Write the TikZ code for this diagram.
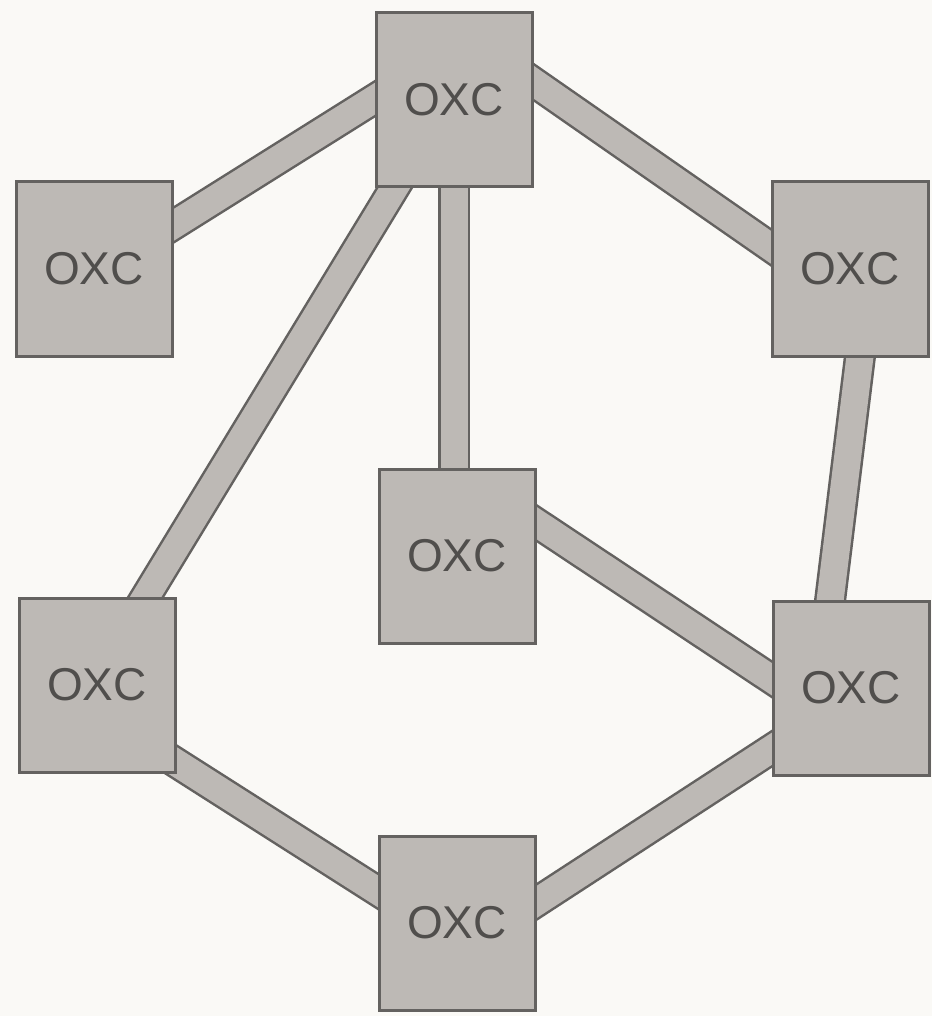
\documentclass[tikz,border=0pt]{standalone}
\usepackage{fontspec}
\setmainfont{Liberation Sans}
\usetikzlibrary{calc}
\pgfdeclarelayer{background}
\pgfsetlayers{background,main}
\definecolor{boxgray}{RGB}{189,185,181}
\definecolor{edgegray}{RGB}{100,98,96}
\definecolor{textgray}{RGB}{80,78,76}
\definecolor{paper}{RGB}{250,249,246}
\tikzset{
  oxc/.style={draw=edgegray, line width=3pt, fill=boxgray, minimum width=156pt, minimum height=174pt,
    inner sep=0pt, outer sep=0pt, text=textgray, font=\fontsize{46}{46}\selectfont},
  link/.style={draw=edgegray, line width=2.5pt, double=boxgray, double distance=27pt,
    shorten <=-22pt, shorten >=-22pt}
}
\begin{document}
\begin{tikzpicture}[x=1pt,y=-1pt]
\useasboundingbox (0,0) rectangle (932,1016);
\node[oxc] (T)  at (454,100) {OXC};
\node[oxc] (LU) at (94,269)  {OXC};
\node[oxc] (RU) at (850,269) {OXC};
\node[oxc] (M)  at (457,556) {OXC};
\node[oxc] (LL) at (97,685)  {OXC};
\node[oxc] (RL) at (851,688) {OXC};
\node[oxc] (B)  at (457,923) {OXC};
\begin{pgfonlayer}{background}
\fill[paper] (0,0) rectangle (932,1016);
\draw[link] ($(T.west)+(0,-2)$) -- ($(LU.east)+(0,-43)$);
\draw[link] ($(T.south)+(-59,0)$) -- ($(LL.north)+(48,0)$);
\draw[link] (T.south) -- (T.south |- M.north);
\draw[link] ($(T.east)+(0,-19)$) -- ($(RU.west)+(0,-21)$);
\draw[link] ($(RU.south)+(10,0)$) -- ($(RL.north)+(-21,0)$);
\draw[link] ($(M.east)+(0,-34)$) -- ($(RL.west)+(0,-8)$);
\draw[link] ($(LL.east)+(0,77)$) -- ($(B.west)+(0,-31)$);
\draw[link] ($(RL.west)+(0,60)$) -- ($(B.east)+(0,-20)$);
\end{pgfonlayer}
\end{tikzpicture}
\end{document}
